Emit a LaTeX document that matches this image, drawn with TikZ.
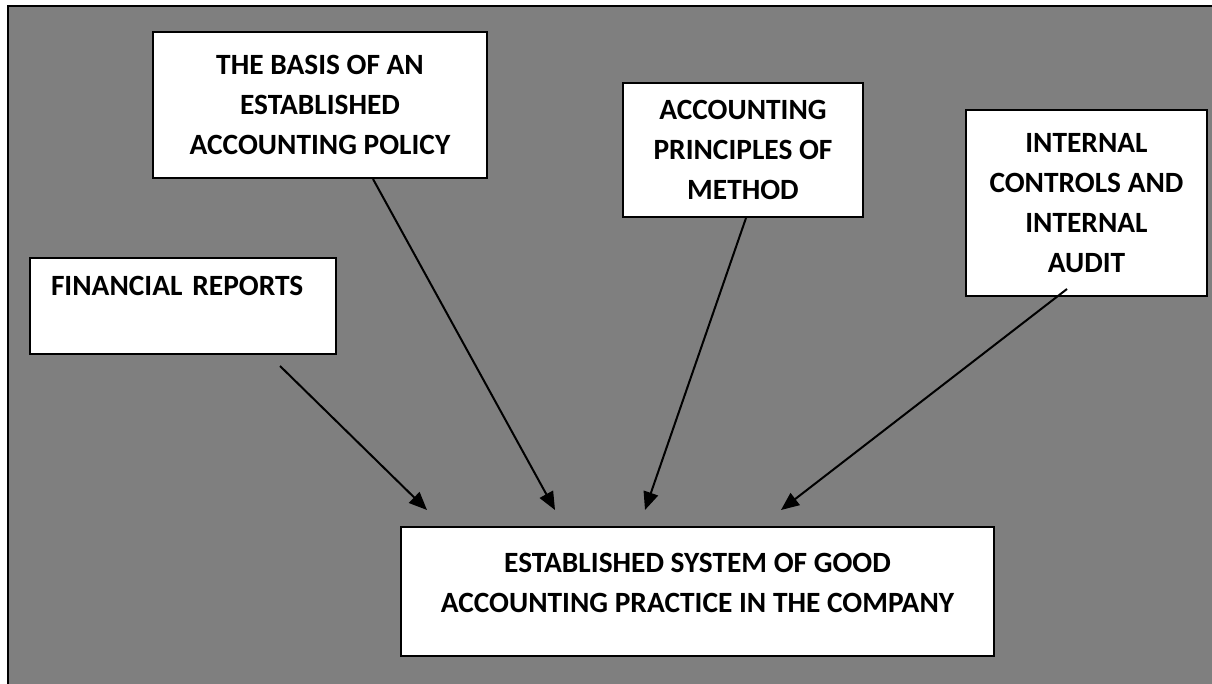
\documentclass[tikz,border=0pt]{standalone}
\usepackage{fontspec}
\setmainfont{Carlito}
\usepackage{tikz}
\usetikzlibrary{arrows.meta, positioning}
\usepackage{xcolor}
\definecolor{pagegray}{HTML}{7F7F7F}

\begin{document}
\begin{tikzpicture}[
        x=0.5pt, y=-0.5pt,
        font=\bfseries\fontsize{14.7}{20}\selectfont,
        box/.style={draw=black, fill=white, line width=1pt, inner sep=0pt,
                    align=center},
        arr/.style={-{Triangle[length=9pt, width=7.5pt]}, black, line width=1pt},
      ]
        \useasboundingbox (0,0) rectangle (1212,684);
        \fill[pagegray] (8,7) rectangle (1212,684);
        \draw[line width=1pt] (7.5,684) -- (7.5,6.5) -- (1212,6.5);

        \node[box, minimum width=153pt, minimum height=48pt, text width=132pt,
              align=left] (fin) at (183,306) {FINANCIAL REPORTS\\\mbox{}};
        \node[box, minimum width=167pt, minimum height=73pt] (basis) at (320,105)
              {THE BASIS OF AN\\ESTABLISHED\\ACCOUNTING POLICY};
        \node[box, minimum width=120pt, minimum height=67pt] (princ) at (743,150)
              {ACCOUNTING\\PRINCIPLES OF\\METHOD};
        \node[box, minimum width=120.5pt, minimum height=93pt] (intern) at (1086.5,203)
              {INTERNAL\\CONTROLS AND\\INTERNAL\\AUDIT};
        \node[box, minimum width=296.5pt, minimum height=64.5pt, text depth=9pt]
              (est) at (697.5,591.5)
              {ESTABLISHED SYSTEM OF GOOD\\ACCOUNTING PRACTICE IN THE COMPANY};

        % arrow ends
        \coordinate (finTail)    at (280,366);
        \coordinate (finTip)     at (427,510);
        \coordinate (basisTail)  at (373,179);
        \coordinate (basisTip)   at (555,510);
        \coordinate (princTail)  at (746,218);
        \coordinate (princTip)   at (645,510);
        \coordinate (internTail) at (1067,289);
        \coordinate (internTip)  at (781,510);

        \draw[arr] (finTail)    -- (finTip);
        \draw[arr] (basisTail)  -- (basisTip);
        \draw[arr] (princTail)  -- (princTip);
        \draw[arr] (internTail) -- (internTip);
      \end{tikzpicture}
\end{document}
